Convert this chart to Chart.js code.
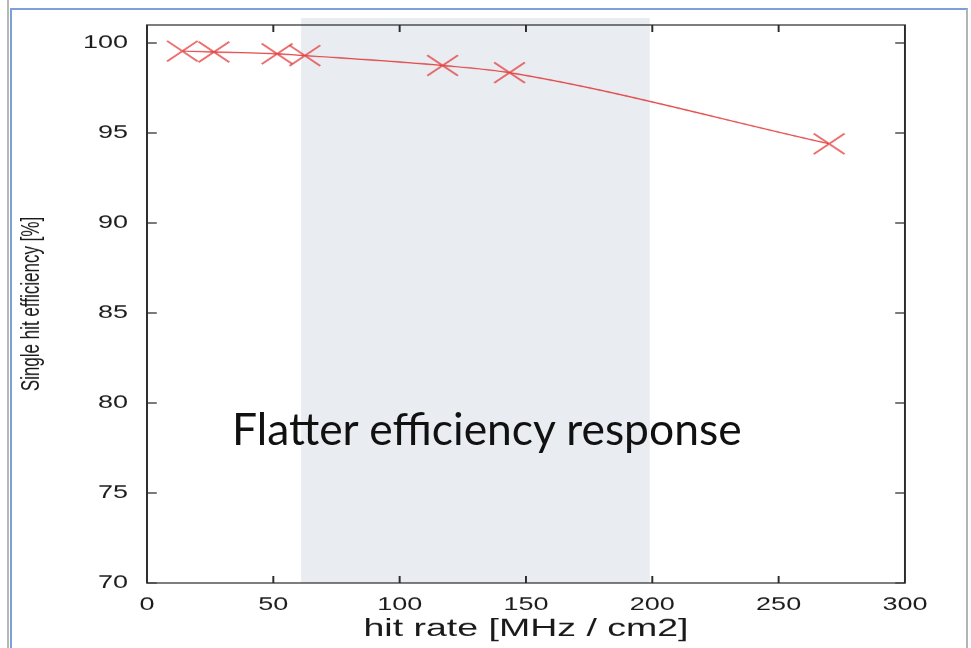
<!DOCTYPE html>
<html>
<head>
<meta charset="utf-8">
<script src="https://cdn.jsdelivr.net/npm/chart.js@4.4.1/dist/chart.umd.min.js"></script>
<style>
  html, body { margin: 0; padding: 0; background: #fff; overflow: hidden; }
  body { width: 971px; height: 648px; position: relative; }
  #wrap { position: absolute; left: 0; top: 0; width: 648px; height: 648px; transform: scaleX(1.5); transform-origin: 0 0; }
  #slide { position: absolute; left: 10px; top: 8px; width: 954px; height: 700px; border-top: 2px solid #7ba2d6; border-left: 2px solid #7ba2d6; border-right: 2px solid #b4b4b4; }
  #edge { position: absolute; left: 7px; top: 0; width: 2px; height: 648px; background: #b8b8b8; }
  #note { position: absolute; left: 232px; top: 406px; font-family: Lato, sans-serif; font-size: 44.4px; line-height: 1; color: #111; white-space: nowrap; }
</style>
</head>
<body>
<div id="edge"></div>
<div id="slide"></div>
<div id="wrap"><canvas id="chart" width="648" height="648"></canvas></div>
<div id="note">Flatter efficiency response</div>
<script>
// measured points
const hitRate = [14, 26.5, 51.5, 62.5, 117, 143.5, 270];
const efficiency = [99.55, 99.5, 99.4, 99.3, 98.75, 98.35, 94.4];

const xTicks = [0, 50, 100, 150, 200, 250, 300];
const yTicks = [70, 75, 80, 85, 90, 95, 100];

// highlighted rate band
const bandRange = [61, 199];

const tickFont = { family: '"Liberation Sans", Arial, sans-serif', size: 18 };

const framePlugin = {
  id: 'frame',
  beforeDatasetsDraw(chart) {
    const { ctx, chartArea, scales } = chart;
    const x0 = scales.x.getPixelForValue(bandRange[0]);
    const x1 = scales.x.getPixelForValue(bandRange[1]);
    ctx.save();
    ctx.fillStyle = '#e9edf1';
    ctx.fillRect(x0, chartArea.top - 7, x1 - x0, chartArea.bottom - chartArea.top + 7);
    ctx.restore();
  },
  afterDraw(chart) {
    const { ctx, chartArea, scales } = chart;
    const { left, right, top, bottom } = chartArea;
    ctx.save();
    ctx.strokeStyle = '#2b2b2b';
    ctx.lineWidth = 1.3;
    ctx.strokeRect(left, top, right - left, bottom - top);
    ctx.beginPath();
    xTicks.slice(1, -1).forEach(v => {
      const px = scales.x.getPixelForValue(v);
      ctx.moveTo(px, bottom); ctx.lineTo(px, bottom - 7);
      ctx.moveTo(px, top); ctx.lineTo(px, top + 7);
    });
    yTicks.forEach(v => {
      const py = scales.y.getPixelForValue(v);
      ctx.moveTo(left, py); ctx.lineTo(left + 6.5, py);
      ctx.moveTo(right, py); ctx.lineTo(right - 6.5, py);
    });
    ctx.stroke();
    ctx.restore();
  }
};

const ctx = document.getElementById('chart').getContext('2d');
new Chart(ctx, {
  type: 'line',
  data: {
    datasets: [{
      data: hitRate.map((x, i) => ({ x: x, y: efficiency[i] })),
      borderColor: 'rgba(222, 45, 45, 0.85)',
      borderWidth: 1.3,
      cubicInterpolationMode: 'monotone',
      fill: false,
      pointStyle: 'crossRot',
      pointRadius: 14.5,
      pointBorderWidth: 1.6,
      pointBorderColor: 'rgba(228, 60, 60, 0.75)',
      pointBackgroundColor: 'transparent'
    }]
  },
  options: {
    responsive: false,
    devicePixelRatio: 1.5,
    animation: false,
    layout: { padding: { top: 25, right: 44.7, bottom: 0, left: 0 } },
    plugins: {
      legend: { display: false },
      tooltip: { enabled: false }
    },
    scales: {
      x: {
        type: 'linear',
        min: 0,
        max: 300,
        afterBuildTicks: scale => { scale.ticks = xTicks.map(v => ({ value: v })); },
        afterFit: scale => { scale.height = 65; },
        grid: { display: false, drawTicks: false },
        border: { display: false },
        ticks: { font: tickFont, color: '#1c1c1c', padding: 11, maxRotation: 0 },
        title: {
          display: true,
          text: 'hit rate [MHz / cm2]',
          font: { family: '"Liberation Sans", Arial, sans-serif', size: 25 },
          color: '#1a1a1a',
          padding: { top: 0, bottom: 4 }
        }
      },
      y: {
        type: 'linear',
        min: 70,
        max: 101,
        afterBuildTicks: scale => { scale.ticks = yTicks.map(v => ({ value: v })); },
        afterFit: scale => { scale.width = 98; },
        grid: { display: false, drawTicks: false },
        border: { display: false },
        ticks: { font: tickFont, color: '#1c1c1c', padding: 12.7 },
        title: {
          display: true,
          text: 'Single hit efficiency [%]',
          font: { family: '"Liberation Sans", Arial, sans-serif', size: 17 },
          color: '#1a1a1a',
          padding: { top: 11, bottom: 0 }
        }
      }
    }
  },
  plugins: [framePlugin]
});
</script>
</body>
</html>
